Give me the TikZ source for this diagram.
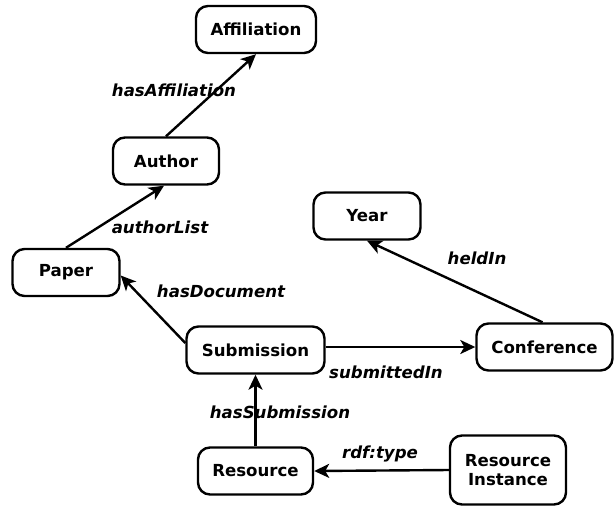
\documentclass[tikz,border=0pt]{standalone}
\usepackage{fontspec}
\setmainfont{DejaVu Sans}
\usetikzlibrary{arrows.meta}
\tikzset{
  box/.style={draw=black, line width=2.4pt, rounded corners=12pt, fill=white,
    minimum height=47pt, inner sep=2pt, align=center,
    font=\fontsize{16.6}{19}\selectfont\bfseries},
  lab/.style={inner sep=0pt, font=\fontsize{16.6}{19}\selectfont\bfseries\itshape},
  conn/.style={line width=2.4pt, -{Stealth[length=15pt,width=14pt,inset=4pt]}},
}
\begin{document}
\begin{tikzpicture}[x=1pt,y=-1pt]
\useasboundingbox (0,0) rectangle (616,507);
\node[box, minimum width=120pt] (aff) at (256,29.5) {Affiliation};
\node[box, minimum width=106pt] (auth) at (166,161) {Author};
\node[box, minimum width=107pt] (paper) at (66,272.5) {Paper};
\node[box, minimum width=107pt] (year) at (367,216) {Year};
\node[box, minimum width=138pt] (sub) at (255.5,350) {Submission};
\node[box, minimum width=136pt] (conf) at (544.5,347) {Conference};
\node[box, minimum width=115pt] (res) at (255.5,471) {Resource};
\node[box, minimum width=116pt, minimum height=69pt] (ri) at (508,470) {Resource\\Instance};

\draw[conn] (auth.north) -- (aff.south);
\draw[conn] (paper.north) -- ([xshift=-2pt]auth.south);
\draw[conn] ([yshift=7pt]sub.west) -- ([yshift=-3pt]paper.east);
\draw[conn] ([xshift=-2pt]conf.north) -- (year.south);
\draw[conn] ([yshift=3pt]sub.east) -- (conf.west);
\draw[conn] (res.north) -- (sub.south);
\draw[conn] (ri.west) -- (res.east);

\node[lab] (l1) at (174,90) {hasAffiliation};
\node[lab] (l2) at (160,227) {authorList};
\node[lab] (l3) at (221,291) {hasDocument};
\node[lab] (l4) at (477,258) {heldIn};
\node[lab] (l5) at (386,372) {submittedIn};
\node[lab] (l6) at (280,412) {hasSubmission};
\node[lab] (l7) at (380,454) {rdf:type};
\end{tikzpicture}
\end{document}
